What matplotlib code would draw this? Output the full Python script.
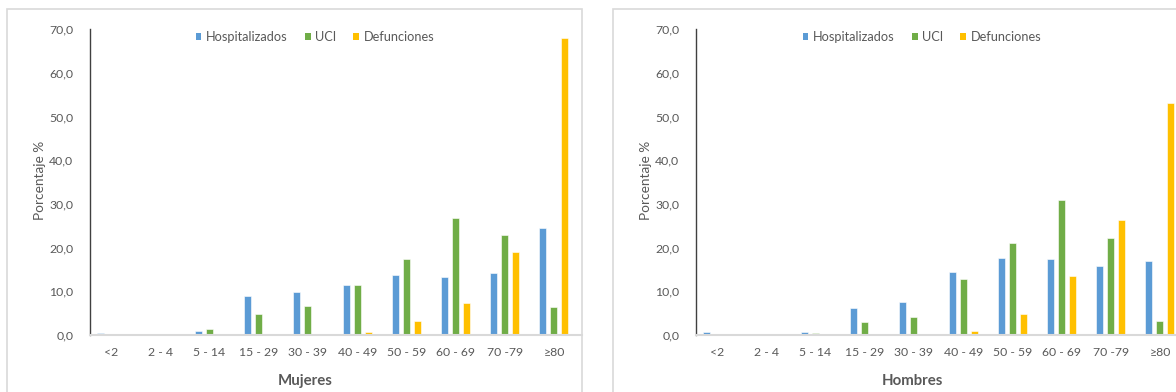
import numpy as np
import matplotlib
matplotlib.use("Agg")
import matplotlib.pyplot as plt
from matplotlib.patches import Rectangle, Patch

plt.rcParams['font.family'] = ['Lato', 'DejaVu Sans']

# grupos de edad y porcentajes por sexo
grupos = ['<2', '2 - 4', '5 - 14', '15 - 29', '30 - 39', '40 - 49',
          '50 - 59', '60 - 69', '70 -79', '≥80']
series = ['Hospitalizados', 'UCI', 'Defunciones']

muj_hosp = [0.5, 0.0, 1.0, 9.0, 9.8, 11.5, 13.7, 13.3, 14.2, 24.5]
muj_uci = [0.3, 0.0, 1.4, 4.8, 6.7, 11.4, 17.4, 26.7, 22.9, 6.5]
muj_def = [0.0, 0.0, 0.0, 0.0, 0.3, 0.8, 3.3, 7.3, 18.9, 68.0]

hom_hosp = [0.7, 0.0, 0.8, 6.1, 7.6, 14.5, 17.7, 17.5, 15.8, 17.0]
hom_uci = [0.0, 0.0, 0.5, 3.0, 4.2, 12.7, 21.1, 30.8, 22.1, 3.2]
hom_def = [0.0, 0.0, 0.0, 0.0, 0.0, 0.9, 4.7, 13.5, 26.3, 53.0]

colores = ['#5B9BD5', '#70AD47', '#FFC000']
gris = '#595959'

W, H = 1176, 392
fig = plt.figure(figsize=(W / 100, H / 100), dpi=100)


def panel(x0, datos, titulo, x_titulo, x_leyenda, x_ylabel):
    ax = fig.add_axes([x0 / W, 57 / H, 492 / W, 306 / H])
    x = np.arange(len(grupos))
    for i, (vals, c) in enumerate(zip(datos, colores)):
        ax.bar(x + (i - 1) * 0.224, vals, width=0.142, color=c,
               edgecolor='white', linewidth=0.4, label=series[i], zorder=2)
    ax.set_xlim(-0.43, 9.57)
    ax.set_ylim(0, 70)
    ax.set_yticks(np.arange(0, 71, 10))
    ax.set_yticklabels([f'{v:.1f}'.replace('.', ',') for v in range(0, 71, 10)])
    ax.set_xticks(x)
    ax.set_xticklabels(grupos)
    ax.tick_params(length=0, labelcolor=gris, labelsize=8.8)
    ax.tick_params(axis='y', pad=12)
    ax.tick_params(axis='x', pad=9)
    for s in ['top', 'right']:
        ax.spines[s].set_visible(False)
    ax.spines['left'].set_color('#404040')
    ax.spines['left'].set_linewidth(1.0)
    ax.spines['bottom'].set_color('#d9d9d9')
    ax.spines['bottom'].set_linewidth(1.5)
    ax.spines['bottom'].set_zorder(3)

    fig.text(x_titulo / W, 1 - 381 / H, titulo, ha='center', va='center',
             fontsize=10.8, fontweight='bold', color=gris)
    fig.text(x_ylabel / W, 1 - 180 / H, 'Porcentaje %', rotation=90,
             ha='center', va='center', fontsize=9.8, color=gris)

    handles = [Patch(facecolor=c, edgecolor='none') for c in colores]
    fig.legend(handles, series, loc='center', ncol=3, frameon=False,
               bbox_to_anchor=(x_leyenda / W, 1 - 37 / H),
               fontsize=9.2, labelcolor=gris, handlelength=0.45,
               handleheight=0.45, handletextpad=0.35, columnspacing=1.35)
    return ax


panel(90, [muj_hosp, muj_uci, muj_def], 'Mujeres', 305, 315, 40)
panel(696, [hom_hosp, hom_uci, hom_def], 'Hombres', 912, 922, 646)

# marcos de cada grafico
fig.patches.append(Rectangle((7 / W, -0.1), 575 / W, 1.1 - 9.5 / H,
                             transform=fig.transFigure, fill=False,
                             edgecolor='#d9d9d9', linewidth=1.2))
fig.patches.append(Rectangle((613 / W, -0.1), 1.0, 1.1 - 9.5 / H,
                             transform=fig.transFigure, fill=False,
                             edgecolor='#d9d9d9', linewidth=1.2))

fig.savefig('out.png', dpi=100)
